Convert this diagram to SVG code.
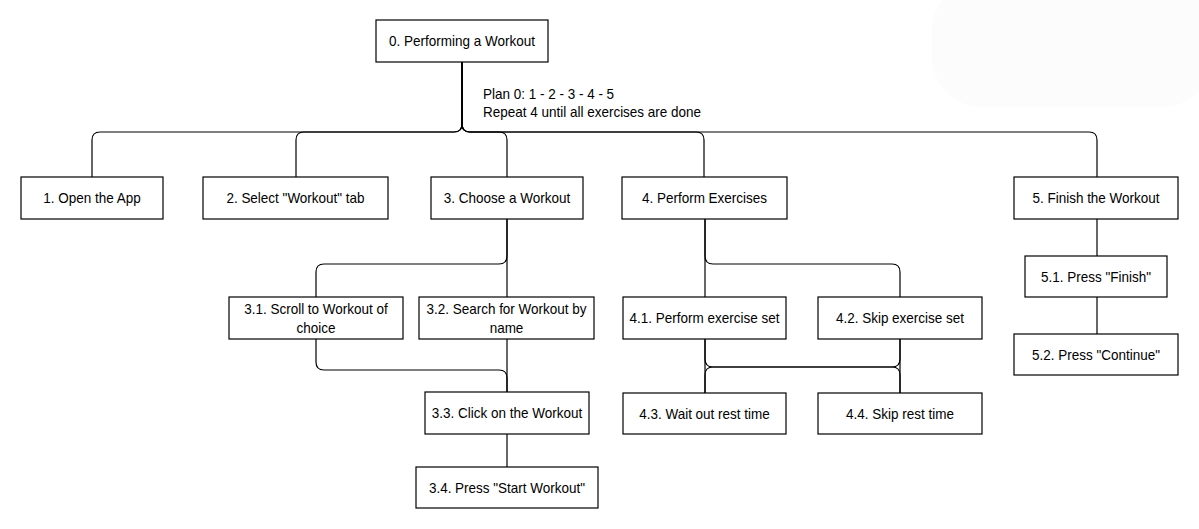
<svg xmlns="http://www.w3.org/2000/svg" width="1199" height="529" viewBox="0 0 1199 529">
<style>
.box{fill:#fff;stroke:#000;stroke-width:1.2}
.lbl{font-family:"Liberation Sans",Arial,sans-serif;font-size:15px;fill:#000;text-anchor:middle}
.plan{font-family:"Liberation Sans",Arial,sans-serif;font-size:15px;fill:#000}
.edge{fill:none;stroke:#000;stroke-width:1.2}
</style>
<rect width="1199" height="529" fill="#fff"/>
<rect x="932" y="-20" width="280" height="127" rx="50" fill="#fcfcfc"/>
<g id="connectors">
<path class="edge" d="M462,62 V124 Q462,132 454,132 H100 Q92,132 92,140 V177"/>
<path class="edge" d="M462,62 V124 Q462,132 454,132 H304 Q296,132 296,140 V177"/>
<path class="edge" d="M462,62 V124 Q462,132 470,132 H499 Q507,132 507,140 V177"/>
<path class="edge" d="M462,62 V124 Q462,132 470,132 H696 Q704,132 704,140 V177"/>
<path class="edge" d="M462,62 V124 Q462,132 470,132 H1089 Q1097,132 1097,140 V177"/>
<path class="edge" d="M507,219 V256 Q507,264 499,264 H324 Q316,264 316,272 V297"/>
<path class="edge" d="M507,219 V297"/>
<path class="edge" d="M316,339 V362 Q316,370 324,370 H499 Q507,370 507,378 V392"/>
<path class="edge" d="M507,339 V392"/>
<path class="edge" d="M507,434 V467"/>
<path class="edge" d="M705,219 V297"/>
<path class="edge" d="M705,219 V256 Q705,264 713,264 H892 Q900,264 900,272 V297"/>
<path class="edge" d="M705,339 V393"/>
<path class="edge" d="M705,339 V359 Q705,367 713,367 H892 Q900,367 900,375 V393"/>
<path class="edge" d="M900,339 V359 Q900,367 892,367 H713 Q705,367 705,375 V393"/>
<path class="edge" d="M900,339 V393"/>
<path class="edge" d="M1097,219 V256"/>
<path class="edge" d="M1097,297 V334"/>
</g>
<g id="plan0">
<text class="plan" transform="scale(0.9 1)" x="536.67" y="99">Plan 0: 1 - 2 - 3 - 4 - 5</text>
<text class="plan" transform="scale(0.9 1)" x="536.67" y="117">Repeat 4 until all exercises are done</text>
</g>
<g id="n0"><rect class="box" x="376" y="20" width="172" height="42"/><text class="lbl" transform="scale(0.9 1)" x="513.33" y="46.5">0. Performing a Workout</text></g>
<g id="n1"><rect class="box" x="21" y="177" width="142" height="42"/><text class="lbl" transform="scale(0.9 1)" x="102.22" y="203.5">1. Open the App</text></g>
<g id="n2"><rect class="box" x="203" y="177" width="185" height="42"/><text class="lbl" transform="scale(0.9 1)" x="328.33" y="203.5">2. Select "Workout" tab</text></g>
<g id="n3"><rect class="box" x="431" y="177" width="152" height="42"/><text class="lbl" transform="scale(0.9 1)" x="563.33" y="203.5">3. Choose a Workout</text></g>
<g id="n4"><rect class="box" x="622" y="177" width="165" height="42"/><text class="lbl" transform="scale(0.9 1)" x="782.78" y="203.5">4. Perform Exercises</text></g>
<g id="n5"><rect class="box" x="1014" y="177" width="164" height="42"/><text class="lbl" transform="scale(0.9 1)" x="1217.78" y="203.5">5. Finish the Workout</text></g>
<g id="n3_1"><rect class="box" x="229" y="297" width="174" height="42"/><text class="lbl" transform="scale(0.9 1)" x="351.11" y="314">3.1. Scroll to Workout of</text><text class="lbl" transform="scale(0.9 1)" x="351.11" y="333">choice</text></g>
<g id="n3_2"><rect class="box" x="419" y="297" width="175" height="42"/><text class="lbl" transform="scale(0.9 1)" x="562.78" y="314">3.2. Search for Workout by</text><text class="lbl" transform="scale(0.9 1)" x="562.78" y="333">name</text></g>
<g id="n3_3"><rect class="box" x="425" y="392" width="164" height="42"/><text class="lbl" transform="scale(0.9 1)" x="563.33" y="418.5">3.3. Click on the Workout</text></g>
<g id="n3_4"><rect class="box" x="416" y="467" width="182" height="41"/><text class="lbl" transform="scale(0.9 1)" x="563.33" y="493">3.4. Press "Start Workout"</text></g>
<g id="n4_1"><rect class="box" x="623" y="297" width="163" height="42"/><text class="lbl" transform="scale(0.9 1)" x="782.78" y="323.5">4.1. Perform exercise set</text></g>
<g id="n4_2"><rect class="box" x="818" y="297" width="164" height="42"/><text class="lbl" transform="scale(0.9 1)" x="1000" y="323.5">4.2. Skip exercise set</text></g>
<g id="n4_3"><rect class="box" x="623" y="393" width="163" height="41"/><text class="lbl" transform="scale(0.9 1)" x="782.78" y="419">4.3. Wait out rest time</text></g>
<g id="n4_4"><rect class="box" x="818" y="393" width="164" height="41"/><text class="lbl" transform="scale(0.9 1)" x="1000" y="419">4.4. Skip rest time</text></g>
<g id="n5_1"><rect class="box" x="1025" y="256" width="142" height="41"/><text class="lbl" transform="scale(0.9 1)" x="1217.78" y="282">5.1. Press "Finish"</text></g>
<g id="n5_2"><rect class="box" x="1014" y="334" width="164" height="41"/><text class="lbl" transform="scale(0.9 1)" x="1217.78" y="360">5.2. Press "Continue"</text></g>
</svg>
